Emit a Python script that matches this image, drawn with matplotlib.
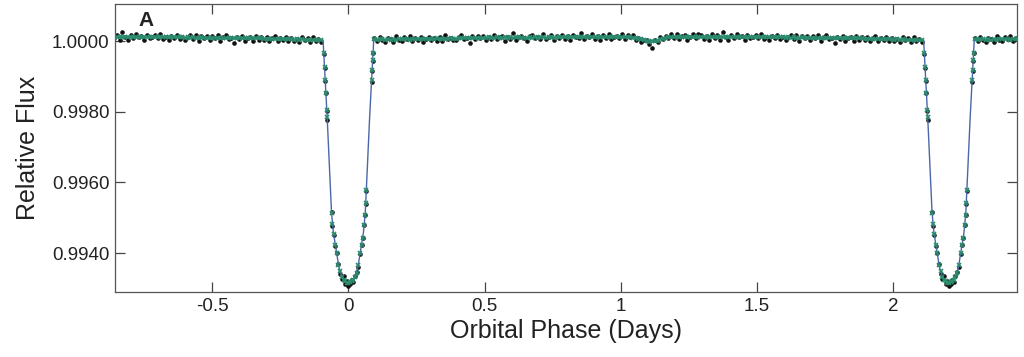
import numpy as np
import matplotlib
matplotlib.use("Agg")
import matplotlib.pyplot as plt

plt.rcParams['font.family'] = ['Liberation Sans', 'DejaVu Sans']

# orbital period (days), phase-folded data is shown repeated
period = 2.205

# in-transit points: offset from mid-transit (days), flux in ppm relative to 1
transit_offset = [-0.0905, -0.0877, -0.0852, -0.0827, -0.0794, -0.0780,
                  -0.0620, -0.0585, -0.0545, -0.0490, -0.0435, -0.0370,
                  -0.0300, -0.0240, -0.0180, -0.0120, -0.0060, 0.0000,
                  0.0060, 0.0120, 0.0180, 0.0240, 0.0300, 0.0370,
                  0.0435, 0.0490, 0.0520, 0.0580, 0.0610, 0.0630,
                  0.0660, 0.0852, 0.0875, 0.0895, 0.0905]
transit_black = [-360, -760, -1120, -1480, -1990, -2230,
                 -4850, -5230, -5480, -5800, -6010, -6300,
                 -6600, -6720, -6640, -6880, -6790, -6930,
                 -6870, -6760, -6820, -6640, -6540, -6380,
                 -6020, -5760, -5560, -5210, -4920, -4600,
                 -4240, -1150, -840, -560, -330]
transit_green = [-330, -730, -1090, -1460, -1940, -2150,
                 -4870, -5180, -5470, -5760, -6000, -6330,
                 -6520, -6680, -6750, -6800, -6840, -6850,
                 -6830, -6800, -6750, -6670, -6550, -6330,
                 -6010, -5760, -5560, -5200, -4920, -4580,
                 -4220, -1100, -820, -540, -340]

# out-of-transit points, sampled every 0.01 d from phase 0.095 to 2.105
oot_start, oot_step = 0.095, 0.01
oot_black = [75, -5, 120, 30, -35, 85, 50, -20, 135, 20,
             15, 110, 50, 135, -10, 75, 25, 105, -35, 70,
             125, 40, 80, -5, 110, 15, 165, 60, 95, 20,
             20, 115, 160, 65, 95, -50, 135, 55, 155, 80,
             145, 30, 120, 70, 185, 50, 105, 155, 15, 125,
             65, 230, 40, 115, 155, 80, 10, 140, 170, 95,
             130, 50, 200, 70, 115, 170, 30, 135, 90, 185,
             60, 150, 30, 170, 125, 80, 240, 50, 155, 105,
             190, 70, 150, 25, 170, 100, 200, 60, 125, 150,
             90, 190, 50, 160, 105, 160, 35, 100, -35, 45,
             45, -75, -200, 25, -30, 110, 50, 155, 75, 195,
             80, 205, 55, 145, 175, 35, 130, 190, 95, 215,
             160, 65, 135, 30, 195, 100, 170, 45, 255, 115,
             45, 170, 85, 195, 110, 145, 35, 175, 75, 130,
             175, 75, 200, 55, 130, 35, 155, 95, 185, 60,
             130, 35, 110, 180, 55, 160, 15, 140, 75, 150,
             30, 135, 75, 175, 15, 110, 160, 55, 95, -60,
             130, 50, 155, 15, 95, 115, 0, 140, 35, 105,
             30, 130, -10, 95, 150, 15, 75, 40, 125, 0,
             95, -10, 70, -35, 105, 30, 75, -25, 115, 5,
             60, -20]
oot_green = [52, 38, 47, 60, 41, 49, 35, 55, 44, 50,
             48, 62, 57, 45, 66, 53, 59, 47, 61, 55,
             72, 58, 67, 75, 61, 70, 56, 68, 74, 63,
             73, 86, 79, 92, 77, 84, 88, 75, 93, 86,
             98, 90, 104, 93, 99, 108, 91, 97, 102, 95,
             106, 95, 103, 110, 97, 101, 93, 108, 99, 104,
             100, 112, 104, 98, 115, 107, 101, 110, 103, 109,
             115, 106, 112, 119, 104, 110, 117, 108, 113, 106,
             120, 111, 118, 109, 122, 114, 119, 112, 125, 116,
             124, 116, 121, 112, 113, 96, 88, 61, 48, 22,
             8, -14, -6, 3, 17, 48, 66, 98, 107, 121,
             116, 125, 118, 123, 114, 121, 127, 117, 122, 119,
             124, 115, 121, 118, 126, 113, 120, 125, 117, 122,
             118, 110, 116, 121, 112, 117, 109, 120, 114, 118,
             106, 114, 109, 103, 112, 108, 115, 104, 111, 107,
             104, 97, 102, 95, 106, 99, 93, 103, 98, 101,
             86, 94, 89, 97, 85, 91, 88, 95, 84, 90,
             83, 76, 82, 74, 85, 79, 77, 84, 75, 81,
             69, 62, 67, 60, 71, 64, 58, 66, 63, 68,
             53, 45, 49, 43, 46, 40, 44, 36, 39, 33,
             31, 28]

# model light curve knots over one period (phase in days, ppm)
model_phase = [-0.100, -0.093, -0.078, -0.062, -0.055, -0.043, -0.035, -0.024, -0.012, 0.000,
               0.012, 0.024, 0.035, 0.043, 0.055, 0.062, 0.078, 0.093, 0.100,
               0.30, 0.50, 0.80, 1.00, 1.06, 1.075, 1.09, 1.105, 1.115, 1.125,
               1.14, 1.155, 1.17, 1.20, 1.35, 1.50, 1.70, 1.90, 2.105]
model_ppm = [30, 30, -2150, -4850, -5430, -6000, -6400, -6650, -6800, -6850,
             -6800, -6650, -6400, -6000, -5430, -4850, -2150, 40, 40,
             60, 90, 110, 120, 118, 100, 40, -15, -30, -15,
             40, 95, 115, 120, 120, 110, 90, 62, 30]

x_ticks = [-0.5, 0, 0.5, 1, 1.5, 2]
x_ticklabels = ["-0.5", "0", "0.5", "1", "1.5", "2"]
y_ticks = [0.9940, 0.9960, 0.9980, 1.0000]
y_ticklabels = ["0.9940", "0.9960", "0.9980", "1.0000"]

# one folded period
oot_phase = oot_start + oot_step * np.arange(len(oot_black))
phase = np.concatenate([np.array(transit_offset), oot_phase])
flux_black = 1 + np.concatenate([transit_black, oot_black]) * 1e-6
flux_green = 1 + np.concatenate([transit_green, oot_green]) * 1e-6
m_phase = np.array(model_phase)
m_flux = 1 + np.array(model_ppm) * 1e-6

fig = plt.figure(figsize=(10.24, 3.57), dpi=100)
ax = fig.add_axes([0.1123, 0.1821, 0.8809, 0.8067])

for shift in (-period, 0.0, period):
    ax.plot(phase + shift, flux_black, 'o', color='#111111', ms=3.3, mew=0, zorder=2)
    ax.plot(m_phase + shift, m_flux, '-', color='#4a68a8', lw=1.0, zorder=2.5)
    ax.plot(phase + shift, flux_green, 'x', color='#2b8c6e', ms=3.2, mew=1.2, zorder=3)

ax.set_xlim(-0.857, 2.455)
ax.set_ylim(0.99290, 1.00105)

ax.set_xticks(x_ticks)
ax.set_xticklabels(x_ticklabels)
ax.set_yticks(y_ticks)
ax.set_yticklabels(y_ticklabels)
ax.tick_params(direction='in', length=7, width=0.9, color='#444444',
               top=True, right=True, labelsize=13.5, labelcolor='#222222', pad=4)

for s in ax.spines.values():
    s.set_color('#555555')
    s.set_linewidth(0.9)

ax.set_xlabel("Orbital Phase (Days)", fontsize=18, color='#222222', va='top')
ax.xaxis.set_label_coords(0.5, -0.095)
ax.set_ylabel("Relative Flux", fontsize=18, color='#222222', va='center')
ax.yaxis.set_label_coords(-0.096, 0.5)

ax.text(0.034, 0.975, "A", transform=ax.transAxes, ha='center', va='top',
        fontsize=15, fontweight='bold', color='#222222')

fig.savefig("out.png", dpi=100)
